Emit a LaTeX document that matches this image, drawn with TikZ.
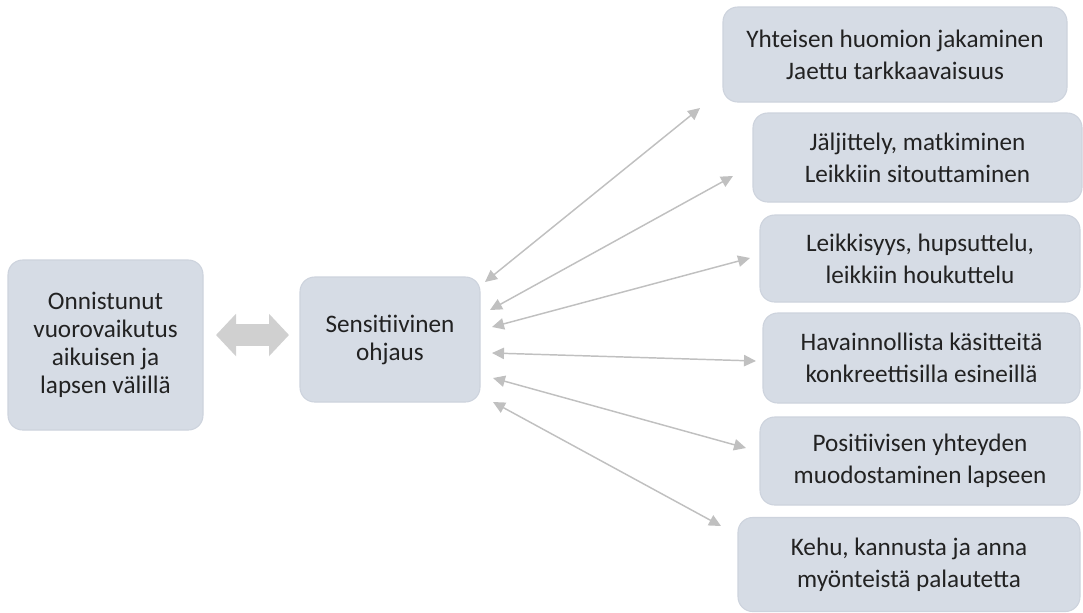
\documentclass[tikz,border=0pt]{standalone}
\usepackage{fontspec}
\setmainfont{Carlito}
\usetikzlibrary{arrows.meta}
\definecolor{boxfill}{HTML}{D6DCE5}
\definecolor{boxline}{HTML}{CDD3DD}
\definecolor{txt}{HTML}{222222}
\definecolor{thin}{HTML}{C0C0C0}
\definecolor{thick}{HTML}{D0D0D0}
\begin{document}
\begin{tikzpicture}[x=0.75pt,y=-0.75pt,
  box/.style={draw=boxline, line width=0.8pt, fill=boxfill, rounded corners=11pt,
    align=center, text=txt, inner sep=0pt,
    font=\fontsize{18.9pt}{23.8pt}\selectfont},
  leftbox/.style={box, font=\fontsize{18.9pt}{21pt}\selectfont},
  link/.style={draw=thin, line width=1.1pt,
    {Triangle[length=9pt,width=8.5pt]}-{Triangle[length=9pt,width=8.5pt]}},
  biglink/.style={draw=thick, line width=16.5pt,
    {Triangle[length=15pt,width=31pt]}-{Triangle[length=15pt,width=31pt]}}
]
\useasboundingbox (0,0) rectangle (1083,612);

\node[leftbox, minimum width=146.25pt, minimum height=127.5pt] (L) at (105.5,345)
  {Onnistunut\\vuorovaikutus\\aikuisen ja\\lapsen välillä};
\node[leftbox, minimum width=135pt, minimum height=93.75pt] (C) at (390,339.5)
  {Sensitiivinen\\ohjaus};

\node[box, minimum width=258pt, minimum height=71.25pt] (B1) at (895,54.5)
  {Yhteisen huomion jakaminen\\Jaettu tarkkaavaisuus};
\node[box, minimum width=246.75pt, minimum height=66.75pt] (B2) at (917.5,157.5)
  {Jäljittely, matkiminen\\Leikkiin sitouttaminen};
\node[box, minimum width=240pt, minimum height=65.25pt] (B3) at (920,258.5)
  {Leikkisyys, hupsuttelu,\\leikkiin houkuttelu};
\node[box, minimum width=237.75pt, minimum height=67.5pt] (B4) at (921.5,358)
  {Havainnollista käsitteitä\\konkreettisilla esineillä};
\node[box, minimum width=240pt, minimum height=66pt] (B5) at (920,461)
  {Positiivisen yhteyden\\muodostaminen lapseen};
\node[box, minimum width=256.5pt, minimum height=70.5pt] (B6) at (909,564.5)
  {Kehu, kannusta ja anna\\myönteistä palautetta};

% thick double arrow between left box and centre box
\coordinate (La) at (216,335);
\coordinate (Lb) at (289,335);
\draw[biglink] (La) -- (Lb);

% thin arrows
\coordinate (a1) at (485,282);  \coordinate (b1) at (700,108);
\coordinate (a2) at (490,310);  \coordinate (b2) at (733,176);
\coordinate (a3) at (492,327);  \coordinate (b3) at (750,258);
\coordinate (a4) at (492,353);  \coordinate (b4) at (756,361);
\coordinate (a5) at (493,378);  \coordinate (b5) at (746,448);
\coordinate (a6) at (493,402);  \coordinate (b6) at (721,526);
\foreach \i in {1,...,6} { \draw[link] (a\i) -- (b\i); }
\end{tikzpicture}
\end{document}
